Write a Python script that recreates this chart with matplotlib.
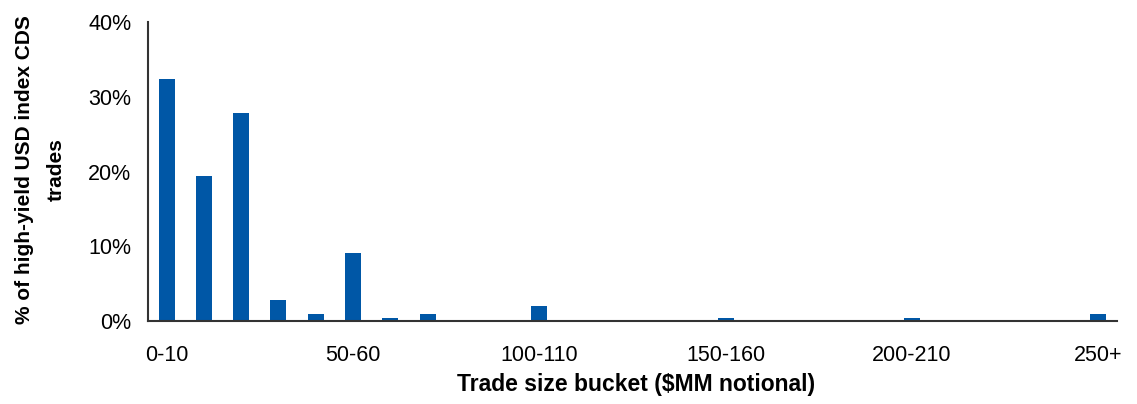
import matplotlib
matplotlib.use("Agg")
import matplotlib.pyplot as plt
from matplotlib.ticker import FuncFormatter

buckets = ["0-10", "10-20", "20-30", "30-40", "40-50", "50-60", "60-70", "70-80",
           "80-90", "90-100", "100-110", "110-120", "120-130", "130-140", "140-150",
           "150-160", "160-170", "170-180", "180-190", "190-200", "200-210",
           "210-220", "220-230", "230-240", "240-250", "250+"]
shares = [32.4, 19.4, 27.8, 2.8, 0.95, 9.1, 0.4, 0.95, 0.13, 0.13, 2.0, 0.13, 0.13,
          0.0, 0.0, 0.4, 0.13, 0.0, 0.0, 0.0, 0.4, 0.0, 0.0, 0.0, 0.0, 0.95]
shown_labels = {"0-10", "50-60", "100-110", "150-160", "200-210", "250+"}

plt.rcParams['font.family'] = ['Liberation Sans', 'DejaVu Sans']

W, H = 1137, 404
fig = plt.figure(figsize=(W / 100, H / 100), dpi=100)
ax = fig.add_axes([148 / W, 1 - 321 / H, (1117 - 148) / W, (321 - 22) / H])

x = list(range(len(buckets)))
ax.bar(x, shares, width=0.43, color="#0057A6")

ax.set_xlim(-0.5, len(buckets) - 0.5)
ax.set_ylim(0, 40)
ax.set_yticks([0, 10, 20, 30, 40])
ax.yaxis.set_major_formatter(FuncFormatter(lambda v, p: f"{v:.0f}%"))
ax.set_xticks(x)
ax.set_xticklabels([b if b in shown_labels else "" for b in buckets])
ax.tick_params(axis='both', length=0, labelsize=15.5, colors="black")
ax.tick_params(axis='x', pad=17)
ax.tick_params(axis='y', pad=12)

for s in ["top", "right"]:
    ax.spines[s].set_visible(False)
for s in ["left", "bottom"]:
    ax.spines[s].set_color("#333333")
    ax.spines[s].set_linewidth(1.5)

fig.text(40 / W, 1 - 170 / H, "% of high-yield USD index CDS\ntrades", rotation=90,
         ha="center", va="center", multialignment="center",
         fontsize=15, fontweight="bold", linespacing=1.85)
fig.text(636 / W, 1 - 384 / H, "Trade size bucket ($MM notional)",
         ha="center", va="center", fontsize=16.5, fontweight="bold")

fig.savefig("out.png", dpi=100)
